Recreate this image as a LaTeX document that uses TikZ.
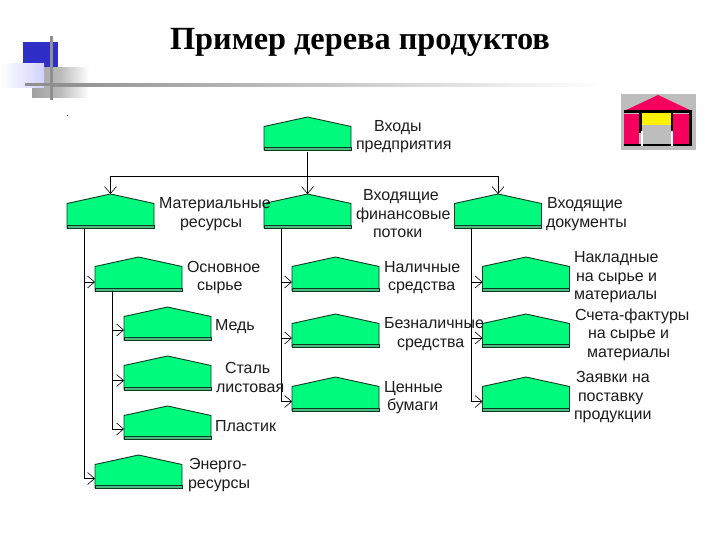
\documentclass[tikz,border=0pt]{standalone}
\usepackage{fontspec}
\setmainfont{Liberation Sans}
\newfontfamily\titlefont{Liberation Serif}
\usetikzlibrary{arrows.meta,calc}
\definecolor{boxgreen}{HTML}{00FA7D}
\definecolor{boxline}{HTML}{0A3A22}
\definecolor{stripgreen}{HTML}{4FB883}
\definecolor{txt}{HTML}{1C1C1C}
\definecolor{decoblue}{HTML}{2F2FC8}
\definecolor{decogray}{HTML}{8F8F8F}
\definecolor{housepink}{HTML}{F5005F}
\definecolor{housegray}{HTML}{BDBDBD}
\tikzset{
  anchorbox/.style={inner sep=0pt,outer sep=0pt,minimum width=87pt,minimum height=#1},
  roof/.style={fill=boxgreen,draw=boxline,line width=0.9pt,line join=miter},
  strip/.style={fill=stripgreen,draw=boxline,line width=0.9pt},
  wire/.style={draw=black,line width=0.8pt},
  barb/.style={wire,-{Straight Barb[length=7pt,width=12pt,line width=0.6pt]}},
  lbl/.style={inner sep=0pt,outer sep=0pt,anchor=west,align=left,text=txt,font=\fontsize{16}{18.5}\selectfont},
}
% name, left x, apex y, bottom y
\newcommand{\prodbox}[4]{%
  \node[anchorbox=#4pt-#3pt] (#1) at ({#2+43.5},{(#3+#4)/2}) {};
  \path[roof] (#1.south west) -- (#1.north west |- 0,{#3+9.5}) -- (#1.north) -- (#1.north east |- 0,{#3+9.5}) -- (#1.south east) -- cycle;
  \path[strip] ($(#1.south west)+(0,-3)$) rectangle (#1.south east);
}
\begin{document}
\begin{tikzpicture}[x=1pt,y=-1pt]
\useasboundingbox (0,0) rectangle (720,540);
\fill[white] (0,0) rectangle (720,540);
% decoration
\fill[decoblue] (23,42) rectangle (58,68);
\shade[left color=decogray!85,right color=white,middle color=decogray!60] (32,68) rectangle (89,98);
\shade[left color=white,right color=blue!18] (0,64) rectangle (44,88);
\fill[decogray] (25,83.5) rectangle (52,86.5);
\shade[left color=decogray,right color=white] (52,83.5) rectangle (600,86.5);
\fill[decogray] (50,36) rectangle (53,100);
\fill[black!70] (66.5,115) rectangle (67.8,116.5);
% house icon
\fill[housegray] (621,94) rectangle (696,150);
\fill[housepink] (658,95) -- (692,111) -- (624,111) -- cycle;
\fill[black] (624,110.5) rectangle (692,113.5);
\fill[housepink] (624,114) rectangle (639,145);
\fill[housepink] (673,114) rectangle (689,145);
\fill[yellow] (642,113.5) rectangle (671,125);
\fill[black] (639,113.5) rectangle (642,133);
\fill[black] (671,113.5) rectangle (673,133);
\fill[black] (689,113.5) rectangle (692,146);
\fill[black] (624,144.5) rectangle (692,146);
\fill[white] (641,131) rectangle (642.5,146);
\fill[white] (671,131) rectangle (672.5,146);
\fill[housegray] (642.5,126) rectangle (671,144.5);
% title
\node[inner sep=0pt] (title) at (360,42) {\titlefont\bfseries\fontsize{32.3}{38}\selectfont Пример дерева продуктов};
% boxes
\prodbox{root}{264}{117}{150}
\prodbox{mat}{67}{194}{228}
\prodbox{fin}{264}{194}{228}
\prodbox{doc}{454.5}{194}{228}
\prodbox{osn}{95}{257}{291}
\prodbox{med}{124}{307}{340}
\prodbox{stal}{124}{356}{390}
\prodbox{plast}{124}{406}{439}
\prodbox{energ}{95}{455}{488}
\prodbox{nal}{292}{257}{291}
\prodbox{bez}{292}{314}{347}
\prodbox{cen}{292}{377}{411}
\prodbox{nak}{482.5}{257}{291}
\prodbox{sch}{482.5}{314}{347}
\prodbox{zay}{482.5}{377}{411}
% connectors
\coordinate (bus) at (root.south |- 0,176);
\draw[wire] ($(root.south)+(0,2)$) -- (bus);
\draw[barb] (bus) -- (fin.north);
\draw[barb] (bus) -| (mat.north);
\draw[barb] (bus) -| (doc.north);
\coordinate (t1) at (84.5,228);
\coordinate (t2) at (112.5,291);
\coordinate (t3) at (281.5,228);
\coordinate (t4) at (471.5,228);
\draw[barb] (t1 |- 0,282) -- (osn.west |- 0,282);
\draw[barb] (t1) |- (energ.west |- 0,478.5);
\draw[barb] (t2) |- (med.west |- 0,330);
\draw[barb] (t2) |- (stal.west |- 0,380.5);
\draw[barb] (t2) |- (plast.west |- 0,429);
\draw[barb] (t3) |- (nal.west |- 0,282);
\draw[barb] (t3) |- (bez.west |- 0,338);
\draw[barb] (t3) |- (cen.west |- 0,401.5);
\draw[barb] (t4) |- (nak.west |- 0,282);
\draw[barb] (t4) |- (sch.west |- 0,338);
\draw[barb] (t4) |- (zay.west |- 0,401.5);
% labels
\node[lbl] (l1) at (356,136.5) {\hspace*{18pt}Входы\\предприятия};
\node[lbl] (l2) at (159,214) {Материальные\\\hspace*{21pt}ресурсы};
\node[lbl] (l3) at (356,214) {\hspace*{7pt}Входящие\\финансовые\\\hspace*{17pt}потоки};
\node[lbl] (l4) at (546,214) {\hspace*{1pt}Входящие\\документы};
\node[lbl] (l5) at (187,277.5) {Основное\\\hspace*{10pt}сырье};
\node[lbl] (l6) at (384,277.5) {Наличные\\\hspace*{4pt}средства};
\node[lbl] (l7) at (574,277.5) {Накладные\\\hspace*{2pt}на сырье и\\материалы};
\node[lbl] (l8) at (575,334.5) {Счета-фактуры\\\hspace*{13pt}на сырье и\\\hspace*{12pt}материалы};
\node[lbl] (l9) at (215,327) {Медь};
\node[lbl] (l10) at (384,334) {Безналичные\\\hspace*{13pt}средства};
\node[lbl] (l11) at (216,377.5) {\hspace*{9pt}Сталь\\листовая};
\node[lbl] (l12) at (384,397.5) {Ценные\\\hspace*{3pt}бумаги};
\node[lbl] (l13) at (574,397.5) {\hspace*{2pt}Заявки на\\\hspace*{4pt}поставку\\продукции};
\node[lbl] (l14) at (215,426) {Пластик};
\node[lbl] (l15) at (188,475) {\hspace*{1pt}Энерго-\\ресурсы};
\end{tikzpicture}
\end{document}
